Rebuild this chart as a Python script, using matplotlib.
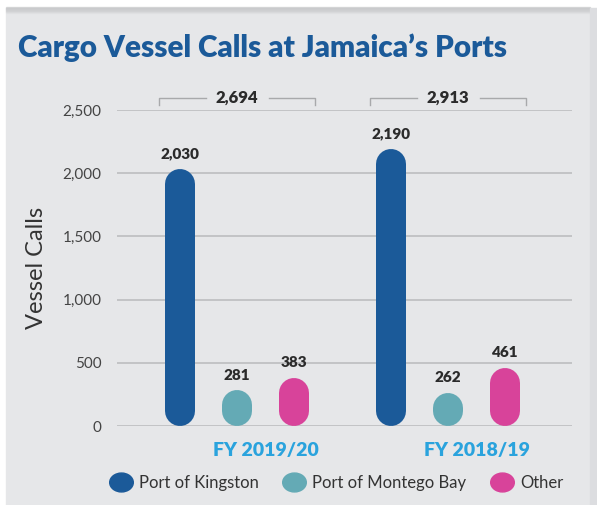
# cargo vessel calls - pill bars

import matplotlib.pyplot as plt
import matplotlib.patches as mpatches
from matplotlib.path import Path
from matplotlib.transforms import Affine2D
from matplotlib.lines import Line2D

plt.rcParams['font.family'] = ['Lato', 'DejaVu Sans']

anos = ['FY 2019/20', 'FY 2018/19']
portos = ['Port of Kingston', 'Port of Montego Bay', 'Other']
kingston = [2030, 2190]
montego = [281, 262]
outros = [383, 461]
totais = [2694, 2913]
cores = ['#1b5a99', '#64aab5', '#d8439a']
yticks = [0, 500, 1000, 1500, 2000, 2500]

fundo = '#e6e7e9'
fig = plt.figure(figsize=(5.97, 5.05), dpi=100, facecolor='white')

# painel cinza com sombra no topo
fig.patches.append(mpatches.Rectangle((6 / 597, 0), 584 / 597, 497 / 505,
                                      transform=fig.transFigure, color=fundo, zorder=-2))
for i in range(6):
    fig.patches.append(mpatches.Rectangle((6 / 597, (497 - i) / 505), 584 / 597, 1 / 505,
                                          transform=fig.transFigure, color='#c8c9cb',
                                          alpha=0.6 - i * 0.1, zorder=-1))
fig.patches.append(mpatches.Rectangle((590 / 597, 0), 7 / 597, 497 / 505,
                                      transform=fig.transFigure, color='#dcdde0', zorder=-1))

ax = fig.add_axes([117 / 597, 79 / 505, 455 / 597, 316 / 505])
ax.set_facecolor('none')
for s in ax.spines.values():
    s.set_visible(False)

espaco_grupo = 3.7
offsets = [-1, 0, 1]
ax.set_xlim(-2.11, 5.87)
ax.set_ylim(0, 2500)

ax.set_yticks(yticks)
ax.set_yticklabels([f'{v:,}' for v in yticks], fontsize=11, color='#444444')
ax.tick_params(axis='y', length=0, pad=11)
ax.set_xticks([])
ax.grid(axis='y', color='#b9babc', linewidth=1.1)
ax.set_axisbelow(True)
ax.set_ylabel('Vessel Calls', fontsize=17, color='#333333', labelpad=11)

# largura da barra em pixels -> raio da ponta em unidades de dado
largura_px = 30
px_por_unidade = 316 / 2500
raio = largura_px / 2 / px_por_unidade

series = [kingston, montego, outros]
for g in range(len(anos)):
    centro = g * espaco_grupo
    for k, serie in enumerate(series):
        x = centro + offsets[k]
        v = serie[g]
        ax.plot([x, x], [raio, v - raio], color=cores[k], linewidth=largura_px * 0.72,
                solid_capstyle='round', clip_on=False, zorder=3)
        ax.text(x, v + 70, f'{v:,}', ha='center', va='bottom', fontsize=11,
                fontweight='heavy', color='#2b2b2b')
    # colchete com o total
    x0 = centro - 1.37
    x1 = centro + 1.37
    yb = 2595
    ax.plot([x0, x0, centro - 0.55], [yb - 55, yb, yb], color='#a8a9ab', lw=1, clip_on=False)
    ax.plot([centro + 0.55, x1, x1], [yb, yb, yb - 55], color='#a8a9ab', lw=1, clip_on=False)
    ax.text(centro, yb, f'{totais[g]:,}', ha='center', va='center', fontsize=12,
            fontweight='heavy', color='#2b2b2b')
    ax.text(centro + 0.5, -195, anos[g], ha='center', va='center', fontsize=14,
            fontweight='heavy', color='#2aa3dd')

fig.text(263 / 597, 1 - 48 / 505, 'Cargo Vessel Calls at Jamaica\u2019s Ports', ha='center',
         va='center', fontsize=21.3, fontweight='heavy', color='#1b5a99')

# legenda com elipses
elipse = Path.unit_circle().transformed(Affine2D().scale(1.25, 1.0))
handles = [Line2D([], [], linestyle='none', marker=elipse, markersize=17,
                  markerfacecolor=c, markeredgecolor=c) for c in cores]
fig.legend(handles, portos, loc='center', bbox_to_anchor=(337 / 597, 1 - 483 / 505),
           ncol=3, frameon=False, fontsize=12, handletextpad=0.5, columnspacing=1.5,
           labelcolor='#333333', handlelength=1.2)

plt.savefig('out.png', dpi=100, facecolor=fig.get_facecolor())
